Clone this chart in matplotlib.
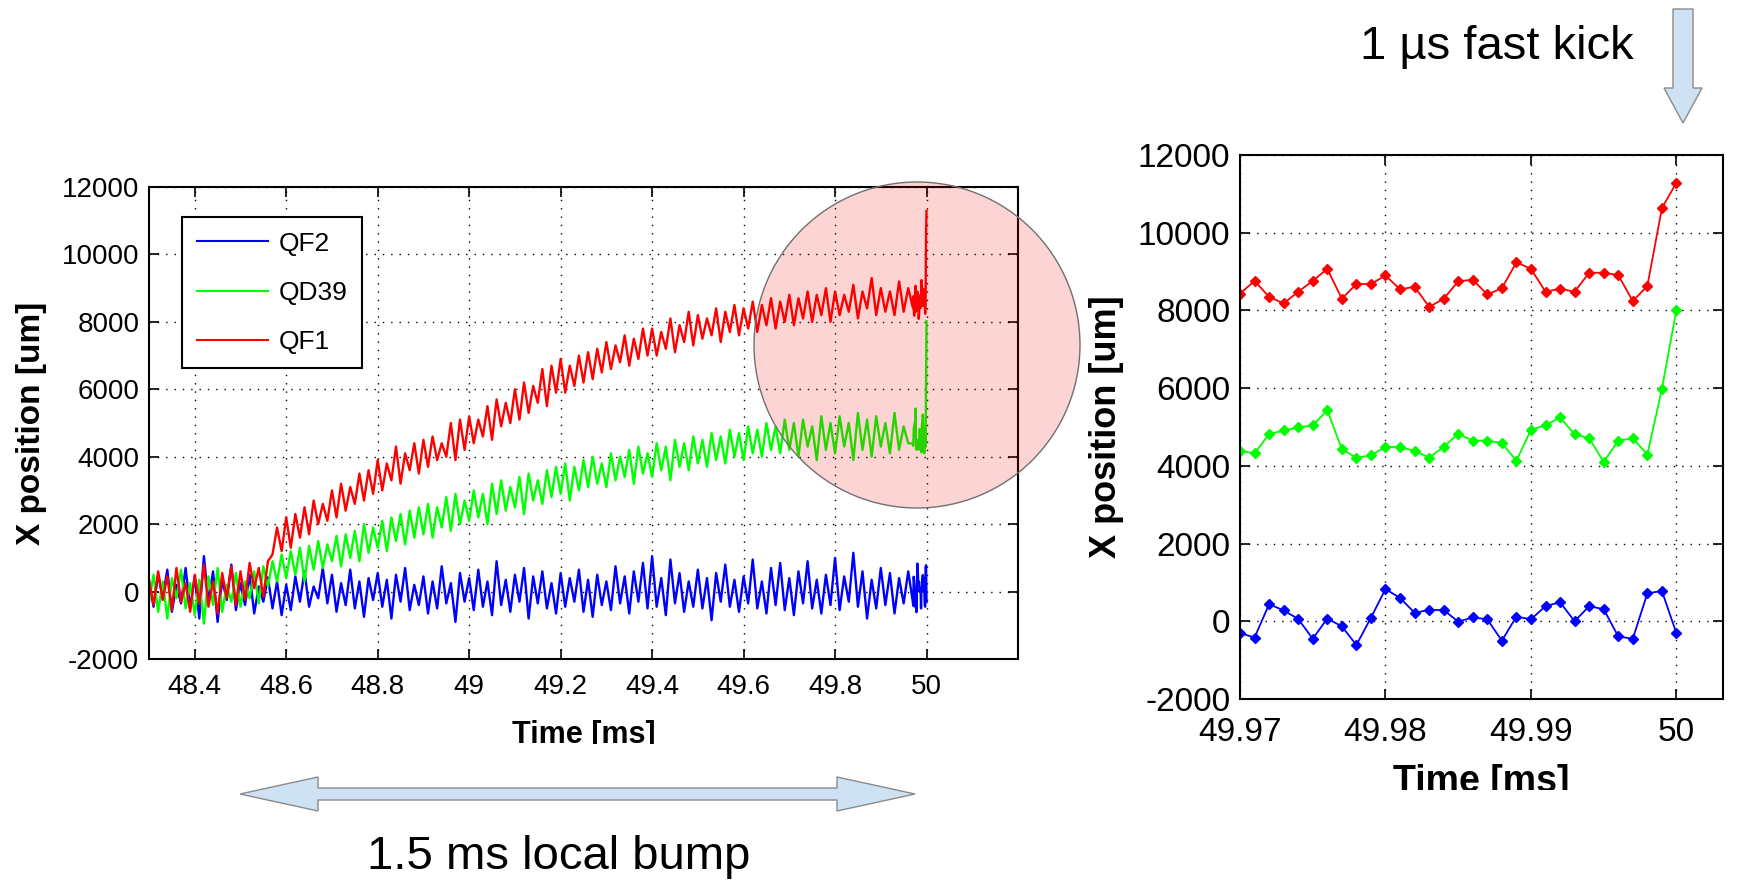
import numpy as np
import matplotlib
matplotlib.use("Agg")
import matplotlib.pyplot as plt
from matplotlib.patches import Circle, Polygon
from matplotlib.transforms import Bbox

plt.rcParams['font.family'] = ['Liberation Sans', 'DejaVu Sans']
plt.rcParams['axes.unicode_minus'] = False

# ---- left panel: 48.30 .. 49.96 ms, one value per 10 us ----
t_coarse = np.round(np.arange(48.30, 49.965, 0.01), 2)

qf2_coarse = [
    300, -450, 520, -200, 650, -600, 200, -350, 700, -500,
    450, -800, 1050, -300, 600, -900, 350, -250, 800, -550,
    250, -400, 500, -650, 150, -300, 420, -500, 300, -700,
    200, -550, 450, -300, 600, -450, 150, -200, 700, -350,
    500, -600, 250, -400, 650, -500, 300, -750, 400, -250,
    550, -450, 350, -800, 500, -300, 700, -550, 200, -400,
    450, -650, 300, -500, 750, -350, 250, -900, 550, -300,
    400, -550, 650, -450, 300, -700, 900, -400, 350, -600,
    500, -300, 700, -800, 450, -350, 600, -500, 250, -650,
    550, -450, 400, -300, 650, -600, 350, -750, 500, -400,
    300, -550, 750, -350, 450, -650, 600, -300, 850, -500,
    1050, -450, 400, -700, 950, -350, 550, -600, 300, -450,
    650, -500, 400, -850, 550, -300, 800, -450, 350, -600,
    450, -350, 950, -500, 300, -650, 700, -400, 850, -550,
    400, -700, 600, -350, 900, -500, 350, -650, 500, -400,
    1000, -550, 450, -300, 1150, -450, 600, -800, 350, -500,
    700, -400, 550, -650, 400, -350, 600,
]

qd39_coarse = [
    -300, 500, -600, 300, -800, 400, -200, 650, -500, 250,
    -700, 350, -950, 450, -400, 700, -600, 200, -300, 550,
    -450, 300, -200, 600, -350, 750, 150, 900, 300, 1100,
    400, 1200, 500, 1300, 300, 1350, 650, 1500, 700, 1400,
    900, 1650, 750, 1700, 1000, 1800, 900, 2000, 1150, 1900,
    1300, 2100, 1200, 2200, 1500, 2300, 1400, 2400, 1600, 2500,
    1700, 2600, 1600, 2500, 1900, 2800, 1800, 2900, 2000, 2700,
    2100, 3000, 2200, 2900, 2000, 3200, 2300, 3300, 2400, 3100,
    2500, 3400, 2300, 3500, 2700, 3300, 2600, 3600, 2800, 3700,
    2900, 3800, 2700, 3700, 3000, 3900, 3100, 4000, 3200, 3800,
    3100, 4100, 3300, 4000, 3400, 4200, 3200, 4300, 3500, 4100,
    3400, 4400, 3600, 4300, 3300, 4500, 3700, 4400, 3600, 4600,
    3800, 4500, 3700, 4700, 3900, 4600, 3800, 4800, 4000, 4700,
    3900, 4900, 4100, 4800, 4000, 5000, 4200, 4900, 4100, 5100,
    4200, 5000, 4000, 5100, 4300, 4900, 3900, 5200, 4200, 5000,
    4100, 5200, 4300, 5000, 3900, 5300, 4200, 5100, 4000, 5200,
    4300, 5000, 4100, 5300, 4200, 4900, 4400,
]

qf1_coarse = [
    350, -400, 600, -250, 450, -550, 700, -300, 250, -600,
    500, -350, 800, -450, 300, -650, 550, -200, 750, -400,
    600, -250, 850, 100, 700, -150, 900, 1100, 1900, 1200,
    2200, 1300, 2300, 1600, 2500, 1700, 2700, 2000, 2600, 2100,
    3000, 2200, 3200, 2400, 3100, 2600, 3500, 2700, 3600, 2900,
    3900, 3000, 3800, 3300, 4300, 3200, 4100, 3600, 4400, 3500,
    4500, 3700, 4600, 3900, 4400, 4000, 5000, 3900, 5100, 4200,
    5200, 4400, 5100, 4600, 5500, 4500, 5700, 4900, 5600, 5000,
    6000, 5100, 6200, 5300, 6100, 5600, 6600, 5500, 6700, 5900,
    6900, 5900, 6700, 6100, 7000, 6200, 7100, 6300, 7200, 6500,
    7400, 6600, 7300, 6800, 7600, 6700, 7500, 6900, 7800, 7000,
    7800, 7000, 7700, 7200, 8100, 7100, 7900, 7400, 8300, 7300,
    8200, 7500, 8100, 7600, 8400, 7400, 8300, 7700, 8500, 7600,
    8400, 7800, 8600, 7700, 8500, 7900, 8700, 7800, 8600, 8000,
    8800, 7900, 8700, 8100, 8900, 8000, 8800, 8200, 9000, 8000,
    8900, 8200, 8800, 8300, 9100, 8100, 8900, 8400, 9300, 8200,
    9000, 8300, 8900, 8200, 9200, 8300, 9000,
]

# ---- right panel: last 30 us, one sample per us ----
t_fine = np.round(np.arange(49.970, 50.0005, 0.001), 3)

qf2_fine = [-300, -420, 440, 280, 60, -450, 70, -130, -610, 90,
            830, 600, 220, 290, 290, -10, 100, 50, -500, 120,
            50, 390, 490, 0, 390, 310, -390, -450, 720, 780, -310]
qd39_fine = [4390, 4320, 4820, 4910, 4990, 5040, 5430, 4430, 4210, 4270,
             4490, 4480, 4390, 4210, 4490, 4820, 4650, 4650, 4590, 4130,
             4930, 5040, 5250, 4810, 4710, 4100, 4650, 4710, 4290, 5980, 8020]
qf1_fine = [8430, 8760, 8350, 8180, 8480, 8760, 9070, 8300, 8680, 8680,
            8900, 8540, 8610, 8090, 8300, 8750, 8790, 8410, 8570, 9240,
            9070, 8480, 8560, 8480, 8970, 8970, 8910, 8240, 8630, 10630, 11290]

names = ['QF2', 'QD39', 'QF1']
colors = ['#0000ff', '#00ff00', '#ff0000']

left_ticks = [48.4, 48.6, 48.8, 49.0, 49.2, 49.4, 49.6, 49.8, 50.0]
left_ticklabels = ['48.4', '48.6', '48.8', '49', '49.2', '49.4', '49.6', '49.8', '50']
right_ticks = [49.97, 49.98, 49.99, 50.0]
right_ticklabels = ['49.97', '49.98', '49.99', '50']
y_ticks = [-2000, 0, 2000, 4000, 6000, 8000, 10000, 12000]

W, H = 1754, 883
fig = plt.figure(figsize=(W / 100, H / 100), dpi=100)


def matlab_style(ax, fs, xpad):
    ax.grid(True, color='black', linestyle=(0, (1, 5)), linewidth=1.0)
    ax.tick_params(direction='in', length=7, width=1.2, top=True, right=True,
                   labelsize=fs, pad=7)
    ax.tick_params(axis='x', pad=xpad)
    for s in ax.spines.values():
        s.set_linewidth(1.5)
    ax.set_yticks(y_ticks)
    ax.set_ylim(-2000, 12000)


# left panel
ax1 = fig.add_axes([149 / W, 1 - 659 / H, 869 / W, 472 / H])
t_left = np.concatenate([t_coarse, t_fine])
for name, col, a, b in zip(names, colors,
                           [qf2_coarse, qd39_coarse, qf1_coarse],
                           [qf2_fine, qd39_fine, qf1_fine]):
    ax1.plot(t_left, np.concatenate([a, b]), color=col, lw=1.7, label=name)
matlab_style(ax1, 20, 11)
ax1.set_xlim(48.3, 50.2)
ax1.set_xticks(left_ticks)
ax1.set_xticklabels(left_ticklabels)
ax1.set_xlabel('Time [ms]', fontsize=22, fontweight='bold')
ax1.set_ylabel('X position [um]', fontsize=24, fontweight='bold')
ax1.xaxis.set_label_coords(0.5, -0.13)
ax1.yaxis.set_label_coords(-0.117, 0.5)
leg = ax1.legend(loc='upper left', bbox_to_anchor=(0.038, 0.936), borderaxespad=0,
                 fancybox=False, edgecolor='black', framealpha=1, fontsize=19,
                 handlelength=2.7, handletextpad=0.4, labelspacing=0.95,
                 borderpad=0.55)
leg.get_frame().set_linewidth(1.5)
for ln in leg.get_lines():
    ln.set_linewidth(1.5)
ax1.xaxis.label.set_clip_box(Bbox([[0, H - 744], [W, H]]))
ax1.xaxis.label.set_clip_on(True)

# right panel
ax2 = fig.add_axes([1240 / W, 1 - 699 / H, 483 / W, 544 / H])
for col, vals in zip(colors, [qf2_fine, qd39_fine, qf1_fine]):
    ax2.plot(t_fine, vals, color=col, lw=1.3, marker='D', markersize=5)
matlab_style(ax2, 24, 13)
ax2.set_xlim(49.97, 50.0032)
ax2.set_xticks(right_ticks)
ax2.set_xticklabels(right_ticklabels)
ax2.set_xlabel('Time [ms]', fontsize=27, fontweight='bold')
ax2.set_ylabel('X position [um]', fontsize=26, fontweight='bold')
ax2.xaxis.set_label_coords(0.5, -0.12)
ax2.yaxis.set_label_coords(-0.24, 0.5)
ax2.xaxis.label.set_clip_box(Bbox([[0, H - 790], [W, H]]))
ax2.xaxis.label.set_clip_on(True)

# overlay in pixel coordinates for the slide annotations
ov = fig.add_axes([0, 0, 1, 1])
ov.set_xlim(0, W)
ov.set_ylim(H, 0)
ov.axis('off')
ov.add_patch(Circle((917, 345), 163, facecolor=(0.94, 0, 0, 0.17),
                    edgecolor='#707070', linewidth=1.0))

arrow_fill = '#cfe2f3'
arrow_edge = '#8a8a8a'
ov.add_patch(Polygon([(240, 794), (318, 777), (318, 788), (837, 788), (837, 777),
                      (915, 794), (837, 811), (837, 800), (318, 800), (318, 811)],
                     closed=True, facecolor=arrow_fill, edgecolor=arrow_edge, lw=1.0))
ov.add_patch(Polygon([(1673, 9), (1693, 9), (1693, 88), (1702, 88), (1683, 123),
                      (1664, 88), (1673, 88)],
                     closed=True, facecolor=arrow_fill, edgecolor=arrow_edge, lw=1.0))
ov.text(559, 857, '1.5 ms local bump', fontsize=34, ha='center', va='center')
ov.text(1497, 47, '1 µs fast kick', fontsize=34, ha='center', va='center')

fig.savefig('out.png', dpi=100)
